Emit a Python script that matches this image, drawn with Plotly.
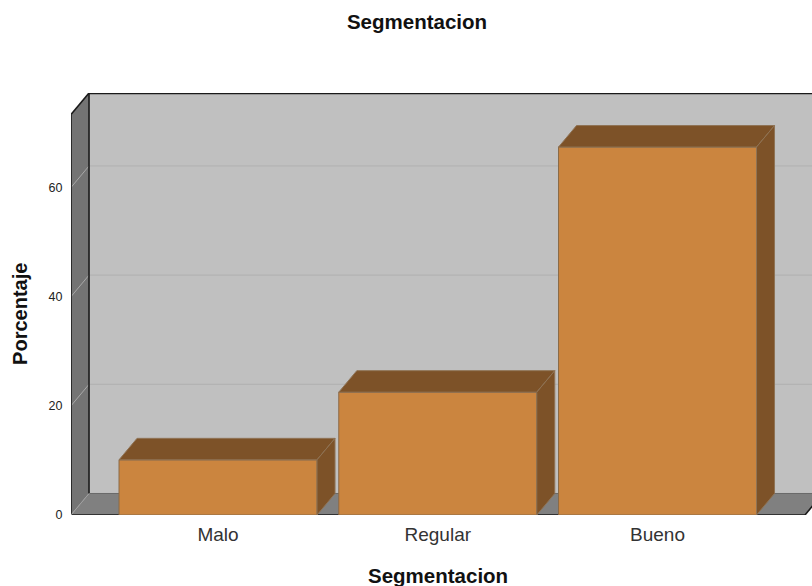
import plotly.graph_objects as go

categories = ["Malo", "Regular", "Bueno"]
percentages = [10.1, 22.5, 67.4]
y_ticks = [0, 20, 40, 60]
chart_title = "Segmentacion"
x_title = "Segmentacion"
y_title = "Porcentaje"

# Colours of the box and the bars
FRONT = "#CB853F"
SHADE = "#7D5228"
BAR_EDGE = "#8A6A48"
BACK_WALL = "#C0C0C0"
LEFT_WALL = "#747474"
FLOOR = "#808080"
GRID_BACK = "#B0B0B0"
GRID_WALL = "#A8A8A8"

# Axis extents and the oblique depth offset, in data units
X_LEFT, X_RIGHT = -0.669, 2.703
X_FRONT_END = 2.671
Y_TOP = 77.3
DX, DY = 0.082, 3.94
BAR_WIDTH = 0.901


def polygon(points, color, edge=None, width=0):
    path = "M " + " L ".join(f"{x},{y}" for x, y in points) + " Z"
    return dict(type="path", path=path, xref="x", yref="y", layer="below",
                fillcolor=color, line=dict(color=edge or color, width=width))


def segment(x0, y0, x1, y1, color, width):
    return dict(type="line", x0=x0, y0=y0, x1=x1, y1=y1, xref="x", yref="y",
                layer="below", line=dict(color=color, width=width))


back_left = X_LEFT + DX
back_right = X_FRONT_END + DX

shapes = [
    # Back wall, floor and left wall of the box
    polygon([(back_left, DY), (X_RIGHT, DY), (X_RIGHT, Y_TOP), (back_left, Y_TOP)], BACK_WALL),
    polygon([(X_LEFT, 0), (X_FRONT_END, 0), (back_right, DY), (back_left, DY)], FLOOR),
    polygon([(X_LEFT, 0), (back_left, DY), (back_left, Y_TOP), (X_LEFT, Y_TOP - DY)], LEFT_WALL),
]

# Gridlines run across the back wall and fold down the left wall
for tick in y_ticks[1:]:
    shapes.append(segment(back_left, tick + DY, X_RIGHT, tick + DY, GRID_BACK, 1))
    shapes.append(segment(X_LEFT, tick, back_left, tick + DY, GRID_WALL, 1))

# Box outline
shapes += [
    segment(X_LEFT - 0.005, -0.4, X_LEFT - 0.005, Y_TOP - DY, "#D4D4D4", 1),
    segment(X_LEFT, -0.45, X_FRONT_END + 0.004, -0.45, "#CFCFCF", 1),
    segment(X_LEFT, 0, X_LEFT, Y_TOP - DY, "#1A1A1A", 1.6),
    segment(X_LEFT, Y_TOP - DY, back_left, Y_TOP, "#1A1A1A", 1.6),
    segment(back_left, DY, back_left, Y_TOP, "#1A1A1A", 1.6),
    segment(back_left, Y_TOP - 0.1, X_RIGHT, Y_TOP - 0.1, "#1A1A1A", 1.6),
    segment(X_LEFT, 0, X_FRONT_END, 0, "#1A1A1A", 1.6),
    segment(X_FRONT_END, 0, back_right, DY, "#1A1A1A", 1.6),
    segment(back_left, DY, X_RIGHT, DY, "#6A6A6A", 1),
    segment(X_LEFT, 0, back_left, DY, "#A0A0A0", 1),
]

positions = list(range(len(categories)))

fig = go.Figure()

# Front faces of the bars
fig.add_trace(go.Bar(
    x=positions, y=percentages, width=BAR_WIDTH,
    marker=dict(color=FRONT, line=dict(color=BAR_EDGE, width=1)),
    hoverinfo="skip",
))

# Top and right faces, offset from each bar's value
for pos, value in zip(positions, percentages):
    left = pos - BAR_WIDTH / 2
    right = pos + BAR_WIDTH / 2
    fig.add_trace(go.Scatter(
        x=[left, right, right + DX, left + DX, left],
        y=[value, value, value + DY, value + DY, value],
        mode="lines", fill="toself", fillcolor=SHADE,
        line=dict(color="#8F7355", width=1), hoverinfo="skip",
    ))
    fig.add_trace(go.Scatter(
        x=[right, right + DX, right + DX, right, right],
        y=[0, DY, value + DY, value, 0],
        mode="lines", fill="toself", fillcolor=SHADE,
        line=dict(color="#8F7355", width=1), hoverinfo="skip",
    ))

fig.update_layout(
    width=812,
    height=586,
    autosize=False,
    showlegend=False,
    paper_bgcolor="white",
    plot_bgcolor="white",
    margin=dict(l=71, r=0, t=92.6, b=71.4),
    font=dict(family="Liberation Sans", color="#1F1F1F"),
    title=dict(text=f"<b>{chart_title}</b>", x=417 / 812, xanchor="center",
               y=1 - 22 / 586, yanchor="middle", font=dict(size=20.5, color="#111111")),
    shapes=shapes,
    annotations=[
        dict(text=f"<b>{x_title}</b>", xref="paper", yref="paper", showarrow=False,
             x=(437.5 - 71) / 741, y=-(575 - 514.6) / 422, xanchor="center", yanchor="middle",
             font=dict(size=20.5, color="#111111")),
        dict(text=f"<b>{y_title}</b>", xref="paper", yref="paper", showarrow=False, textangle=-90,
             x=-(71 - 20) / 741, y=(514.6 - 313.5) / 422, xanchor="center", yanchor="middle",
             font=dict(size=20, color="#111111")),
    ],
    xaxis=dict(
        range=[X_LEFT, X_RIGHT], tickmode="array", tickvals=positions, ticktext=categories,
        tickfont=dict(size=19, color="#333333"), showgrid=False, zeroline=False, showline=False,
        ticks="outside", ticklen=2.5, tickcolor="rgba(0,0,0,0)",
        automargin=False,
    ),
    yaxis=dict(
        range=[0, Y_TOP], tickmode="array", tickvals=y_ticks,
        tickfont=dict(size=12.5, color="#222222"), showgrid=False, zeroline=False, showline=False,
        ticks="outside", ticklen=5, tickcolor="rgba(0,0,0,0)",
        automargin=False,
    ),
)

fig.write_html("out.html", config=dict(displayModeBar=False))
